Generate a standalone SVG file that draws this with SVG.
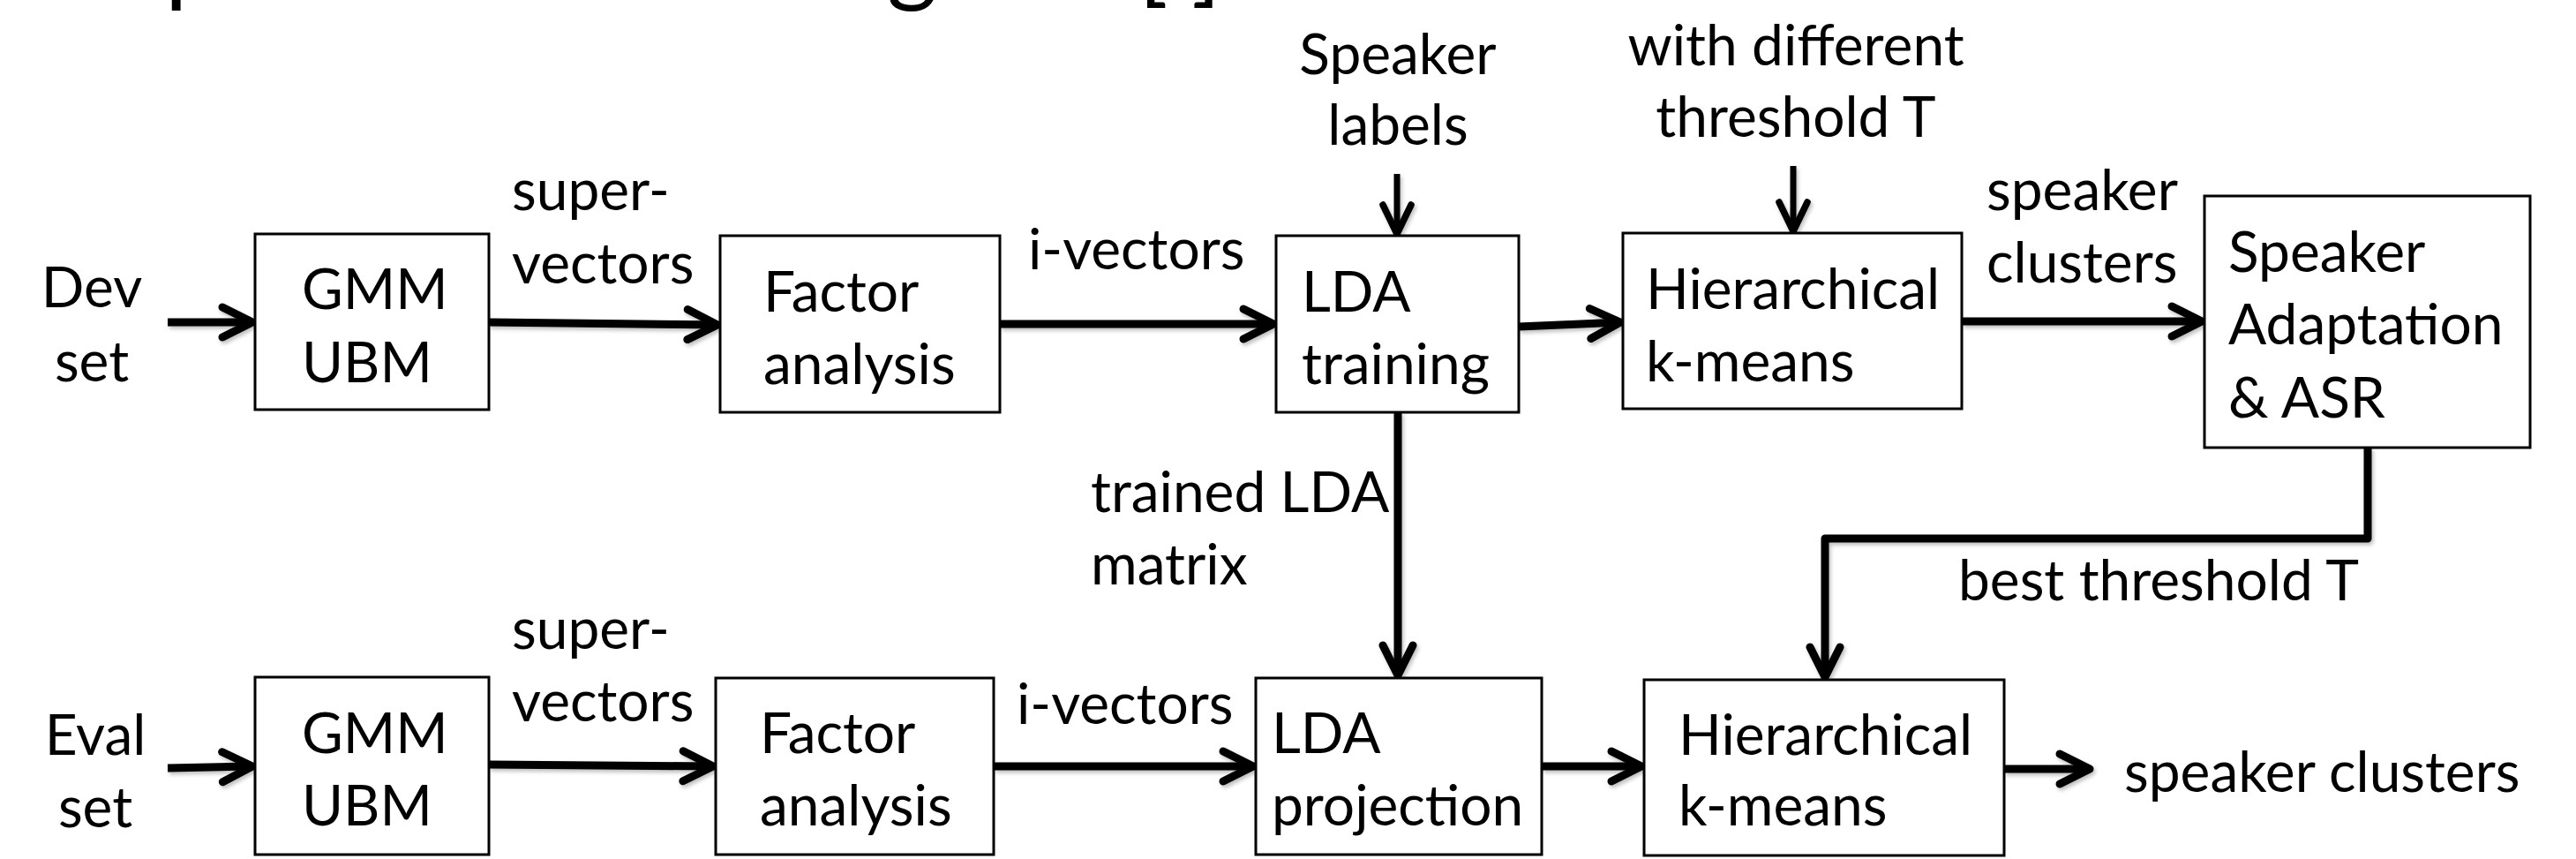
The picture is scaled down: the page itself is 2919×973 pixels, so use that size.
<svg xmlns="http://www.w3.org/2000/svg" width="2919" height="973" viewBox="0 0 2919 973">
  <defs>
    <style>
      .box { fill: #fff; stroke: #000; stroke-width: 3; }
      text { font-family: Lato, "Open Sans", "Liberation Sans", sans-serif; font-size: 64px; fill: #000; }
      .mid { text-anchor: middle; }
      .title { font-size: 110px; }
      .wire { fill: none; stroke: #000; stroke-width: 9; stroke-linejoin: round; }
      .wire.thin { stroke-width: 7; }
    </style>
    <marker id="head" markerUnits="userSpaceOnUse" markerWidth="70" markerHeight="70" viewBox="-50 -35 70 70" refX="0" refY="0" orient="auto" overflow="visible">
      <path d="M-34,-17 L0,0 L-34,17" fill="none" stroke="#000" stroke-width="9" stroke-linecap="round" stroke-linejoin="round"/>
    </marker>
    <marker id="headThin" markerUnits="userSpaceOnUse" markerWidth="70" markerHeight="70" viewBox="-50 -35 70 70" refX="0" refY="0" orient="auto" overflow="visible">
      <path d="M-33,-16 L0,0 L-33,16" fill="none" stroke="#000" stroke-width="7.5" stroke-linecap="round" stroke-linejoin="round"/>
    </marker>
    <filter id="shadow" filterUnits="userSpaceOnUse" x="0" y="0" width="2919" height="973">
      <feDropShadow dx="2" dy="3" stdDeviation="2" flood-color="#000" flood-opacity="0.25"/>
    </filter>
  </defs>

  <rect width="2919" height="973" fill="#fff"/>

  <!-- heading line, mostly above the top edge -->
  <g id="title">
    <text class="title" x="187" y="-7">p</text>
    <text class="title" x="1005" y="-7">g</text>
    <text class="title" x="1290" y="-7">[</text>
    <text class="title" x="1350" y="-7">]</text>
  </g>

  <!-- connectors -->
  <g id="connectors" filter="url(#shadow)">
    <path class="wire" d="M190,365 H286" marker-end="url(#head)"/>
    <path class="wire" d="M554,365 L813,368" marker-end="url(#head)"/>
    <path class="wire" d="M1133,367 H1443" marker-end="url(#head)"/>
    <path class="wire thin" d="M1583,197 V265" marker-end="url(#headThin)"/>
    <path class="wire" d="M1721,370 L1836,365" marker-end="url(#head)"/>
    <path class="wire thin" d="M2032,188 V262" marker-end="url(#headThin)"/>
    <path class="wire" d="M2223,364 H2495" marker-end="url(#head)"/>
    <path class="wire" d="M1584,467 V765" marker-end="url(#head)"/>
    <path class="wire" d="M2683,507 V610 H2068 V767" marker-end="url(#head)"/>
    <path class="wire" d="M190,870 L286,868" marker-end="url(#head)"/>
    <path class="wire" d="M554,866 L808,868" marker-end="url(#head)"/>
    <path class="wire" d="M1126,868 H1420" marker-end="url(#head)"/>
    <path class="wire" d="M1747,868 H1860" marker-end="url(#head)"/>
    <path class="wire" d="M2271,871 H2368" marker-end="url(#head)"/>
  </g>

  <!-- free labels -->
  <g id="labels">
    <text class="mid" x="104" y="348">Dev</text>
    <text class="mid" x="104" y="432">set</text>
    <text class="mid" x="108" y="855">Eval</text>
    <text class="mid" x="108" y="937">set</text>
    <text x="580" y="238">super-</text>
    <text x="580" y="321">vectors</text>
    <text x="580" y="735">super-</text>
    <text x="580" y="817">vectors</text>
    <text x="1165" y="305">i-vectors</text>
    <text x="1152" y="820">i-vectors</text>
    <text class="mid" x="1584" y="84">Speaker</text>
    <text class="mid" x="1584" y="164">labels</text>
    <text class="mid" x="2035" y="74">with different</text>
    <text class="mid" x="2035" y="155">threshold T</text>
    <text x="2251" y="238">speaker</text>
    <text x="2251" y="320">clusters</text>
    <text x="1236" y="580">trained LDA</text>
    <text x="1236" y="662">matrix</text>
    <text x="2219" y="680">best threshold T</text>
    <text x="2407" y="897">speaker clusters</text>
  </g>

  <!-- development row -->
  <g id="gmm-dev">
    <rect class="box" x="289" y="265" width="265" height="199"/>
    <text x="342" y="350">GMM</text>
    <text x="342" y="433">UBM</text>
  </g>
  <g id="fa-dev">
    <rect class="box" x="816" y="267" width="317" height="200"/>
    <text x="865" y="353">Factor</text>
    <text x="865" y="435">analysis</text>
  </g>
  <g id="lda-train">
    <rect class="box" x="1446" y="267" width="275" height="200"/>
    <text x="1475" y="353">LDA</text>
    <text x="1475" y="435">training</text>
  </g>
  <g id="hkm-dev">
    <rect class="box" x="1839" y="264" width="384" height="199"/>
    <text x="1865" y="350">Hierarchical</text>
    <text x="1865" y="432">k-means</text>
  </g>
  <g id="adapt-asr">
    <rect class="box" x="2498" y="222" width="369" height="285"/>
    <text x="2525" y="308">Speaker</text>
    <text x="2525" y="390">Adaptation</text>
    <text x="2525" y="473">&amp; ASR</text>
  </g>

  <!-- evaluation row -->
  <g id="gmm-eval">
    <rect class="box" x="289" y="767" width="265" height="201"/>
    <text x="342" y="853">GMM</text>
    <text x="342" y="935">UBM</text>
  </g>
  <g id="fa-eval">
    <rect class="box" x="811" y="768" width="315" height="200"/>
    <text x="861" y="853">Factor</text>
    <text x="861" y="935">analysis</text>
  </g>
  <g id="lda-proj">
    <rect class="box" x="1423" y="768" width="324" height="200"/>
    <text x="1441" y="853">LDA</text>
    <text x="1441" y="935">projection</text>
  </g>
  <g id="hkm-eval">
    <rect class="box" x="1863" y="770" width="408" height="199"/>
    <text x="1902" y="855">Hierarchical</text>
    <text x="1902" y="935">k-means</text>
  </g>
</svg>
